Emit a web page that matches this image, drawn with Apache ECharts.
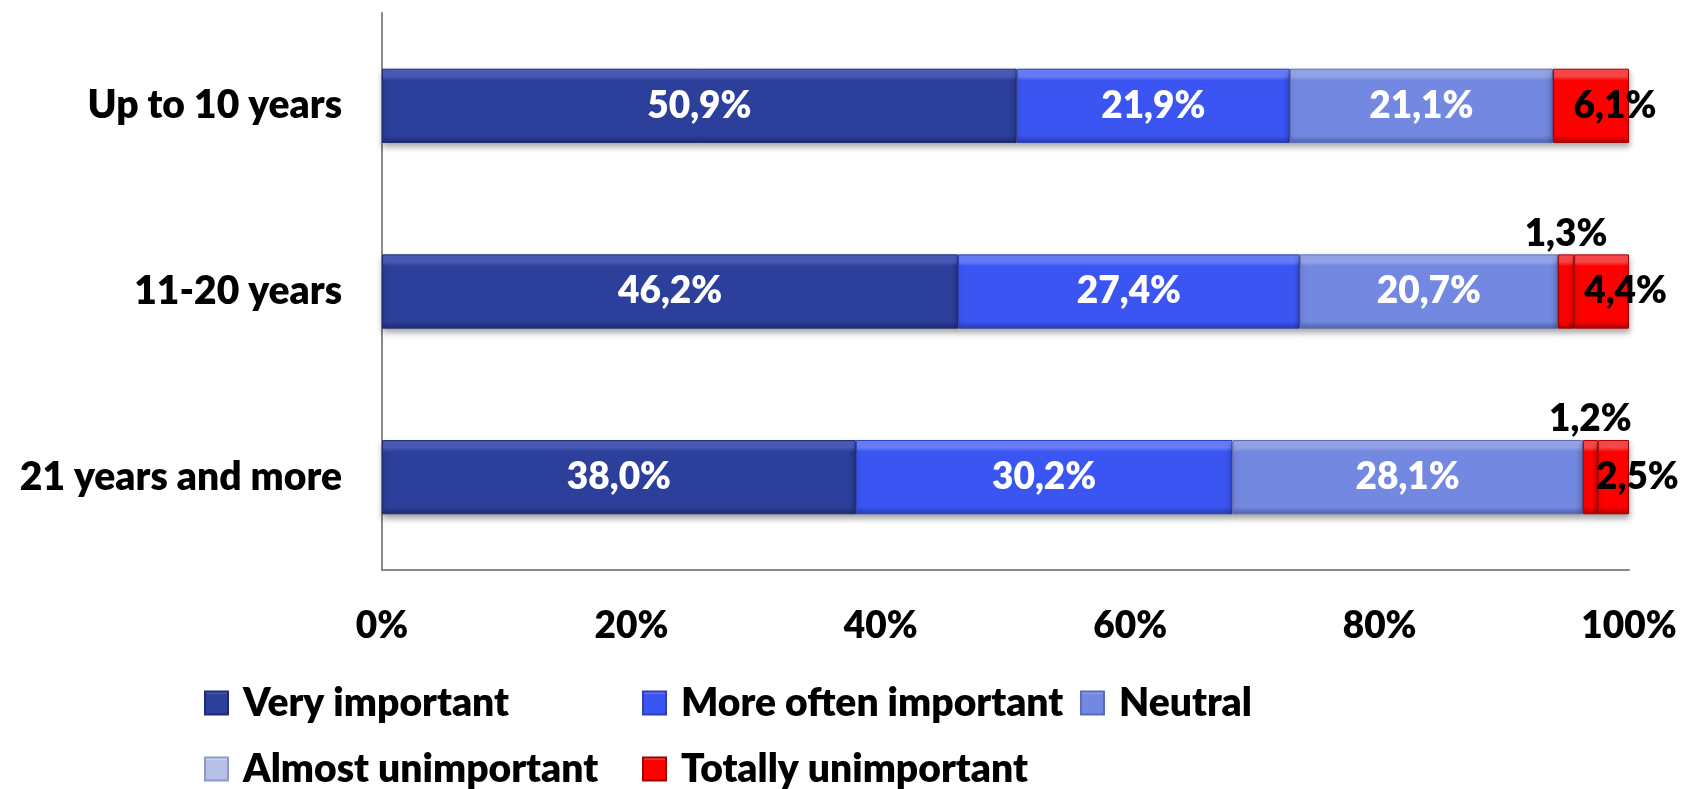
<!DOCTYPE html>
<html>
<head>
<meta charset="utf-8">
<script src="https://cdn.jsdelivr.net/npm/echarts@6/dist/echarts.min.js"></script>
<style>
  html, body { margin: 0; padding: 0; background: #ffffff; }
  #chart { width: 1686px; height: 789px; }
</style>
</head>
<body>
<div id="chart"></div>
<script>
// Experience groups (top to bottom)
const categories = ['Up to 10 years', '11-20 years', '21 years and more'];

// Share of answers per group, in percent
const veryImportant = [50.9, 46.2, 38.0];
const moreOftenImportant = [21.9, 27.4, 30.2];
const neutral = [21.1, 20.7, 28.1];
const almostUnimportant = [null, 1.3, 1.2];
const totallyUnimportant = [6.1, 4.4, 2.5];

const xTicks = ['0%', '20%', '40%', '60%', '80%', '100%'];

const FONT = 'Lato, "Open Sans", sans-serif';
const WEIGHT = 800;

function bevel(light, base, dark) {
  return {
    type: 'linear', x: 0, y: 0, x2: 0, y2: 1,
    colorStops: [
      { offset: 0, color: light },
      { offset: 0.1, color: light },
      { offset: 0.16, color: base },
      { offset: 0.9, color: base },
      { offset: 1, color: dark }
    ]
  };
}

const fmt = p => p.value == null ? '' : p.value.toFixed(1).replace('.', ',') + '%';

const shadow = {
  shadowColor: 'rgba(0,0,0,0.35)',
  shadowBlur: 6,
  shadowOffsetY: 4
};

function whiteLabel() {
  return {
    show: true, position: 'inside', formatter: fmt,
    color: '#ffffff', fontFamily: FONT, fontWeight: WEIGHT, fontSize: 37
  };
}

const redFill = bevel('#ff4a4a', '#ff0000', '#b00000');

const series = [
  {
    name: 'Very important', type: 'bar', stack: 'all', barWidth: '40%',
    data: veryImportant,
    itemStyle: Object.assign({ color: bevel('#4a5dbb', '#2b3f9b', '#1e2c70'), borderColor: '#1e2c6e', borderWidth: 1 }, shadow),
    label: whiteLabel()
  },
  {
    name: 'More often important', type: 'bar', stack: 'all',
    data: moreOftenImportant,
    itemStyle: Object.assign({ color: bevel('#6a80ff', '#3b55f2', '#2a3db0'), borderColor: '#2c3fb5', borderWidth: 1 }, shadow),
    label: whiteLabel()
  },
  {
    name: 'Neutral', type: 'bar', stack: 'all',
    data: neutral,
    itemStyle: Object.assign({ color: bevel('#98a8ee', '#7388e0', '#5163b0'), borderColor: '#5a6cb8', borderWidth: 1 }, shadow),
    label: whiteLabel()
  },
  {
    name: 'Almost unimportant', type: 'bar', stack: 'all',
    data: almostUnimportant.map(v => ({ value: v, itemStyle: { color: redFill, borderColor: '#a00000' } })),
    itemStyle: Object.assign({ color: bevel('#d3daf5', '#b7c1e8', '#8f9acb'), borderColor: '#8f9acb', borderWidth: 1 }, shadow),
    label: {
      show: true, position: 'top', distance: 2, formatter: fmt,
      color: '#000000', fontFamily: FONT, fontWeight: WEIGHT, fontSize: 37
    }
  },
  {
    name: 'Totally unimportant', type: 'bar', stack: 'all',
    data: totallyUnimportant,
    itemStyle: Object.assign({ color: redFill, borderColor: '#a00000', borderWidth: 1 }, shadow),
    label: {
      show: true, position: 'inside', offset: [24, 0], formatter: fmt,
      color: '#000000', fontFamily: FONT, fontWeight: WEIGHT, fontSize: 37
    }
  }
];

const legendText = {
  fontFamily: FONT, fontWeight: WEIGHT, fontSize: 39, color: '#000000',
  lineHeight: 42, padding: [0, 0, 0, 10]
};
function legendAt(name, left, top) {
  return {
    data: [name], left: left, top: top, padding: 0,
    itemWidth: 23, itemHeight: 23, itemGap: 0, icon: 'rect',
    textStyle: legendText, selectedMode: false
  };
}

const chart = echarts.init(document.getElementById('chart'), null, { renderer: 'canvas' });
chart.setOption({
  animation: false,
  backgroundColor: '#ffffff',
  grid: { left: 382, right: 57, top: 13, bottom: 219, containLabel: false },
  xAxis: {
    type: 'value', min: 0, max: 100, interval: 20,
    axisLine: { show: true, lineStyle: { color: '#888888', width: 2 } },
    axisTick: { show: false },
    splitLine: { show: false },
    axisLabel: {
      margin: 38,
      formatter: v => xTicks[Math.round(v / 20)],
      fontFamily: FONT, fontWeight: WEIGHT, fontSize: 37, color: '#000000'
    }
  },
  yAxis: {
    type: 'category', data: categories, inverse: true,
    axisLine: { show: true, lineStyle: { color: '#888888', width: 2 } },
    axisTick: { show: false },
    axisLabel: {
      margin: 40,
      fontFamily: FONT, fontWeight: WEIGHT, fontSize: 39, color: '#000000'
    }
  },
  legend: [
    legendAt('Very important', 204, 682),
    legendAt('More often important', 642, 682),
    legendAt('Neutral', 1080, 682),
    legendAt('Almost unimportant', 204, 748),
    legendAt('Totally unimportant', 642, 748)
  ],
  series: series
});
</script>
</body>
</html>
